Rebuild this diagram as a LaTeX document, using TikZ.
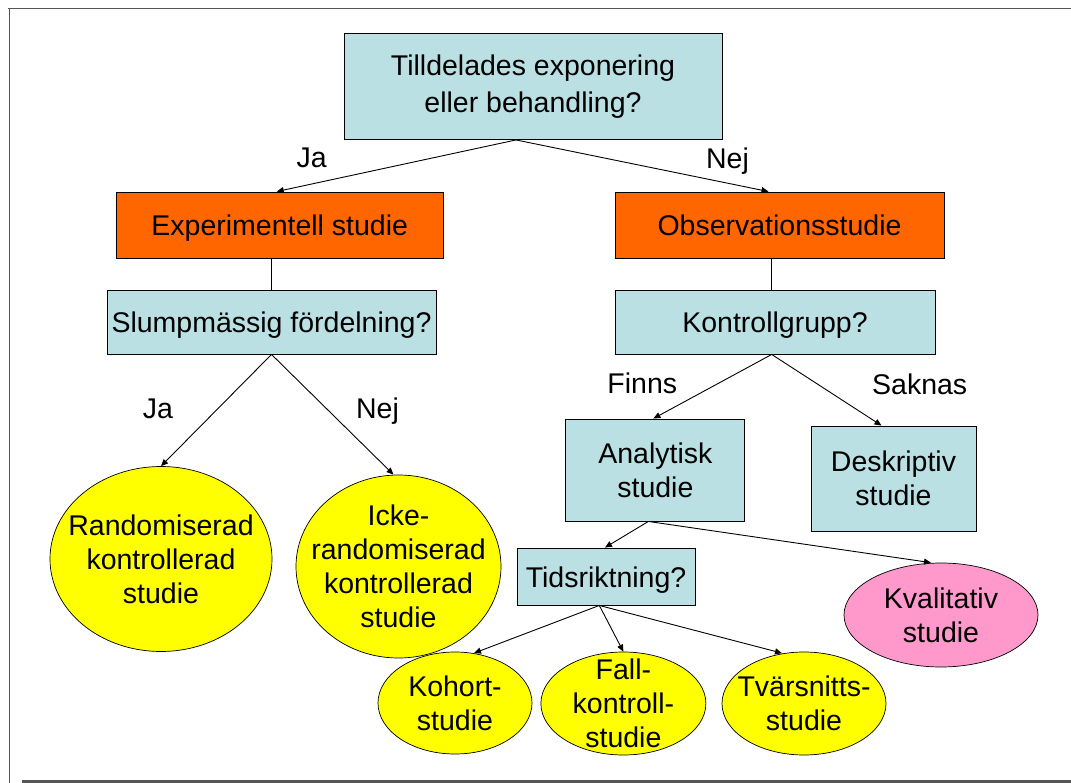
\documentclass[tikz,border=0pt]{standalone}
\usepackage{fontspec}
\setmainfont{Liberation Sans}
\usetikzlibrary{arrows.meta,shapes.geometric,calc}
\definecolor{qblue}{RGB}{187,224,227}
\definecolor{porange}{RGB}{255,102,0}
\definecolor{pyellow}{RGB}{255,255,0}
\definecolor{ppink}{RGB}{255,153,204}
\definecolor{framegray}{RGB}{85,85,85}
\tikzset{
  txt/.style={font=\fontsize{28.5}{34}\selectfont, align=center},
  qbox/.style={draw=black, line width=0.9pt, fill=qblue, inner sep=0pt, txt},
  obox/.style={draw=black, line width=0.9pt, fill=porange, inner sep=0pt, txt},
  oneline/.style={text height=21pt, text depth=0pt},
  oval/.style={draw=black, line width=0.7pt, ellipse, inner sep=0pt},
  lbl/.style={font=\fontsize{28.5}{34}\selectfont, anchor=base, inner sep=0pt},
  conn/.style={draw=black, line width=0.9pt},
  arr/.style={conn, -{Triangle[length=7pt,width=6pt]}}
}
\begin{document}
\begin{tikzpicture}[x=1pt,y=-1pt]
\useasboundingbox (0,0) rectangle (1071,783);
% frame
\draw[framegray, line width=1.6pt] (8,8.5) -- (1071,8.5);
\draw[framegray, line width=1.6pt] (9.5,8) -- (9.5,783);
\draw[framegray, line width=2.8pt] (22,781.5) -- (1071,781.5);

% boxes
\node[qbox, minimum width=378pt, minimum height=106pt] (q1) at (533,86.5) {Tilldelades exponering\\[3pt]eller behandling?};
\node[obox, oneline, minimum width=327.5pt, minimum height=66pt] (exp) at (279.75,225) {Experimentell studie};
\node[obox, oneline, minimum width=329pt, minimum height=66pt] (obs) at (779.5,225) {Observationsstudie};
\node[qbox, oneline, minimum width=329pt, minimum height=64pt] (slump) at (271.5,322) {Slumpmässig fördelning?};
\node[qbox, oneline, minimum width=320pt, minimum height=64pt] (kontroll) at (775,322) {Kontrollgrupp?};
\node[qbox, minimum width=179pt, minimum height=102pt] (analyt) at (655.4,470) {Analytisk\\studie};
\node[qbox, minimum width=165pt, minimum height=105pt] (deskr) at (893.5,478.5) {Deskriptiv\\studie};
\node[qbox, oneline, minimum width=178pt, minimum height=57pt] (tids) at (606,576.5) {Tidsriktning?};

% ovals
\node[oval, fill=pyellow, minimum width=222pt, minimum height=185pt] (rand) at (161,559) {};
\node[txt] (randt) at (rand.center) {Randomiserad\\kontrollerad\\studie};
\node[oval, fill=pyellow, minimum width=205pt, minimum height=183pt] (icke) at (398.5,566.5) {};
\node[txt] (icket) at (icke.center) {Icke-\\randomiserad\\kontrollerad\\studie};
\node[oval, fill=ppink, minimum width=194pt, minimum height=104pt] (kval) at (941,615) {};
\node[txt] (kvalt) at (kval.center) {Kvalitativ\\studie};
\node[oval, fill=pyellow, minimum width=154pt, minimum height=102pt] (kohort) at (455,703) {};
\node[txt] (kohortt) at (kohort.center) {Kohort-\\studie};
\node[oval, fill=pyellow, minimum width=165pt, minimum height=103pt] (fall) at (623.4,703.5) {};
\node[txt] (fallt) at (fall.center) {Fall-\\kontroll-\\studie};
\node[oval, fill=pyellow, minimum width=164pt, minimum height=103pt] (tvar) at (804,703.5) {};
\node[txt] (tvart) at (tvar.center) {Tvärsnitts-\\studie};

% connector points
\coordinate (q1b) at ($(q1.south)+(-17,0)$);
\coordinate (expb) at (exp.south -| slump.north);
\coordinate (kontrollt) at ($(kontroll.north)+(-3.3,0)$);
\coordinate (obsb) at (obs.south -| kontrollt);
\coordinate (kontrollb) at ($(kontroll.south)+(-3.3,0)$);
\coordinate (analytb) at ($(analyt.south)+(-7,0)$);
\coordinate (tidsb) at ($(tids.south)+(-6.7,0)$);

% connectors
\draw[arr] (q1b) -- ($(exp.north)+(-3,0)$);
\draw[arr] (q1b) -- ($(obs.north)+(-11,0)$);
\draw[conn] (expb) -- (slump.north);
\draw[conn] (obsb) -- (kontrollt);
\draw[arr] (slump.south) -- (rand.north);
\draw[arr] (slump.south) -- ($(icke.north)+(-5,0)$);
\draw[arr] (kontrollb) -- ($(analyt.north)+(-2,0)$);
\draw[arr] (kontrollb) -- ($(deskr.north)+(-12,0)$);
\draw[arr] (analytb) -- ($(tids.north)+(-1,0)$);
\draw[arr] (analytb) -- ($(kval.north)+(-10,0)$);
\draw[arr] (tidsb) -- ($(kohort.north)+(19,1.5)$);
\draw[arr] (tidsb) -- (fall.north);
\draw[arr] (tidsb) -- ($(tvar.north)+(-22,1.5)$);

% labels
\node[lbl] (lja1) at (311.6,167.7) {Ja};
\node[lbl] (lnej1) at (727.5,169) {Nej};
\node[lbl] (lja2) at (158,418.3) {Ja};
\node[lbl] (lnej2) at (377.5,418.3) {Nej};
\node[lbl] (lfinns) at (642.3,393.3) {Finns};
\node[lbl] (lsaknas) at (919.7,395) {Saknas};
\end{tikzpicture}
\end{document}
